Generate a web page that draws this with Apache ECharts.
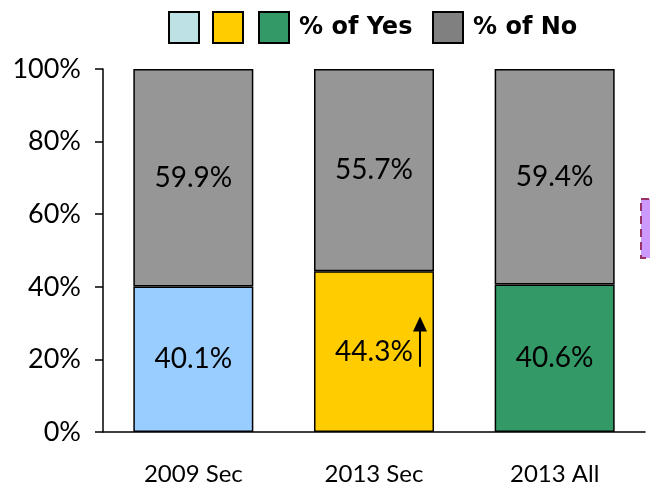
<!DOCTYPE html>
<html><head><meta charset="utf-8">
<script src="https://cdn.jsdelivr.net/npm/echarts@6/dist/echarts.min.js"></script>
<style>html,body{margin:0;padding:0;background:#fff}#c{width:650px;height:488px}</style>
</head><body><div id="c"></div>
<script>
var categories = ['2009 Sec', '2013 Sec', '2013 All'];
var yes2009 = [40.1, '-', '-'];
var yes2013Sec = ['-', 44.3, '-'];
var yes2013All = ['-', '-', 40.6];
var noValues = [59.9, 55.7, 59.4];
var yTicks = [0, 20, 40, 60, 80, 100];
var arrowFrom = 18, arrowTo = 31;

var chart = echarts.init(document.getElementById('c'));
var lbl = {show: true, position: 'inside', formatter: function(p){return p.value.toFixed(1)+'%';},
  color: '#000', fontSize: 28, fontFamily: 'Lato'};
function bar(name, data, color){
  return {name: name, type: 'bar', stack: 'a', data: data, barWidth: 120,
    itemStyle: {color: color, borderColor: '#000', borderWidth: 1.5}, label: lbl};
}
var legTxt = {fontFamily: 'DejaVu Sans', fontWeight: 'bold', fontSize: 24, color: '#000', padding: [0,0,0,5]};
function leg(name, left, color){
  return {left: left, top: 11, padding: 0, itemWidth: 30, itemHeight: 31, textStyle: legTxt, selectedMode: false,
    data: [{name: name, icon: 'rect', itemStyle: {color: color, borderColor: '#000', borderWidth: 2}}]};
}
chart.setOption({
  animation: false,
  legend: [leg(' ', 168, '#bde1e4'), leg('  ', 212, '#ffcc00'), leg('% of Yes', 258, '#339966'), leg('% of No', 432, '#808080')],
  grid: {left: 103, right: 5, top: 69, bottom: 56},
  xAxis: {type: 'category', data: categories,
    axisLine: {lineStyle: {color: '#000', width: 1.5}},
    axisTick: {length: 10, lineStyle: {color: '#000', width: 1.5}},
    axisLabel: {color: '#000', fontSize: 24, fontFamily: 'Lato', margin: 30}},
  yAxis: {type: 'value', min: 0, max: 100, interval: 20, splitLine: {show: false},
    axisLine: {show: true, lineStyle: {color: '#000', width: 1.5}},
    axisTick: {show: true, length: 8, lineStyle: {color: '#000', width: 1.5}},
    axisLabel: {color: '#000', fontSize: 27, fontFamily: 'Lato', margin: 22,
      formatter: function(v){return yTicks.indexOf(v) >= 0 ? v + '%' : '';}}},
  series: [bar(' ', yes2009, '#99ccff'), bar('  ', yes2013Sec, '#ffcc00'),
    bar('% of Yes', yes2013All, '#339966'), bar('% of No', noValues, '#969696')]
});
var cx = chart.convertToPixel({xAxisIndex: 0}, 1);
var y0 = chart.convertToPixel({yAxisIndex: 0}, arrowFrom);
var y1 = chart.convertToPixel({yAxisIndex: 0}, arrowTo);
var ax = cx + 46;
chart.setOption({graphic: [
  {type: 'line', z: 100, shape: {x1: ax, y1: y0, x2: ax, y2: y1 + 8}, style: {stroke: '#000', lineWidth: 2}},
  {type: 'polygon', z: 100, shape: {points: [[ax, y1 - 3], [ax - 7, y1 + 12], [ax + 7, y1 + 12]]}, style: {fill: '#000'}},
  {type: 'rect', z: 100, shape: {x: 641, y: 199, width: 12, height: 59}, style: {fill: '#cc99ff', stroke: '#993366', lineWidth: 2, lineDash: [8, 5]}}
]});
</script></body></html>
